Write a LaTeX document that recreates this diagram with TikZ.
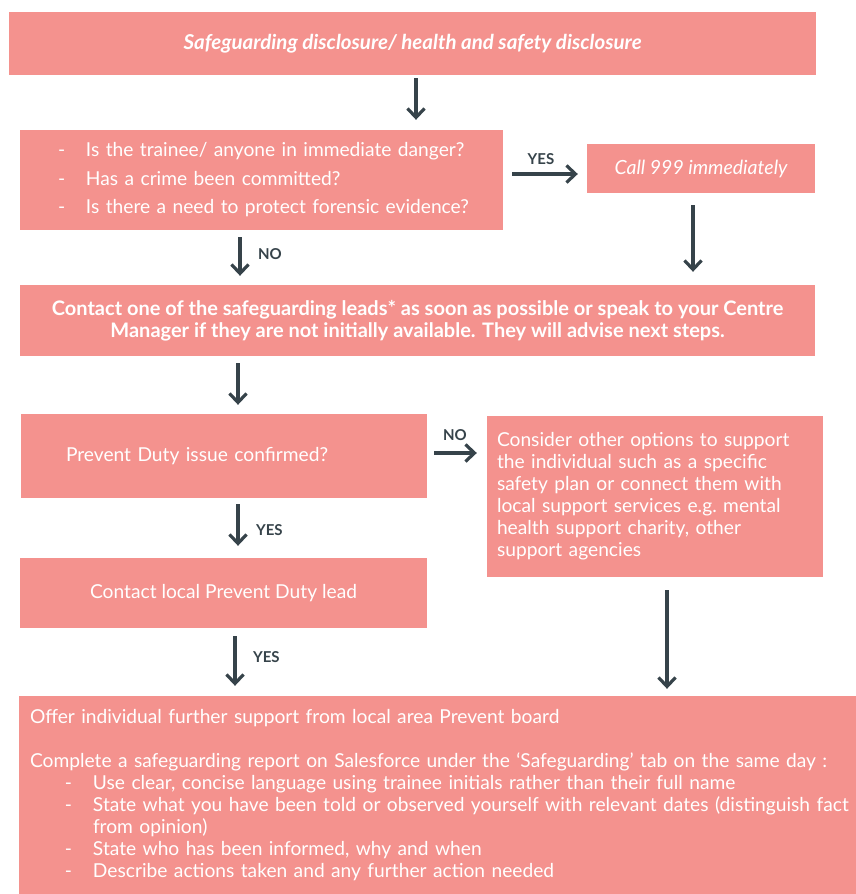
\documentclass[tikz,border=0pt]{standalone}
\usepackage{fontspec}
\setmainfont{Lato}
\usetikzlibrary{positioning, arrows.meta}

\definecolor{boxpink}{HTML}{F4928E}
\definecolor{arrowslate}{HTML}{36434A}

\newcommand{\dashitem}[2]{\hspace*{#1}\mbox{\makebox[28pt][l]{-}#2}}

\begin{document}
\begin{tikzpicture}[x=1pt, y=-1pt,
  every node/.style={font=\fontsize{19.2}{22}\selectfont},
  box/.style={fill=boxpink, text=white, inner sep=0pt},
  flow/.style={draw=arrowslate, line width=3.6pt, -{Straight Barb[length=9pt, width=17pt, line width=3.2pt]}},
  answer/.style={text=arrowslate, font=\fontsize{15}{16}\selectfont\bfseries},
  gap/.style 2 args={shorten <=#1, shorten >=#2}]
  \useasboundingbox (0,0) rectangle (856,894);

  % boxes
  \node[box, minimum width=807pt, minimum height=63pt, font=\fontsize{20.5}{22}\selectfont\bfseries\itshape] (disclosure) at (412.5,43.5) {Safeguarding disclosure/ health and safety disclosure};
  \node[box, minimum width=483pt, minimum height=100pt, text width=483pt, align=left, font=\fontsize{19.2}{28.5}\selectfont] (danger) at (261.5,180)
    {\dashitem{38pt}{Is the trainee/ anyone in immediate danger?}\\
     \dashitem{38pt}{Has a crime been committed?}\\
     \dashitem{38pt}{Is there a need to protect forensic evidence?}};
  \node[box, minimum width=228pt, minimum height=49pt, font=\fontsize{19.5}{22}\selectfont\itshape] (police) at (701,168.5) {Call 999 immediately};
  \node[box, minimum width=795pt, minimum height=71pt, align=center, font=\fontsize{20}{22}\selectfont\bfseries] (leads) at (417.5,320.5)
    {Contact one of the safeguarding leads* as soon as possible or speak to your Centre\\
     Manager if they are not initially available. They will advise next steps.};
  \node[box, minimum width=406pt, minimum height=84pt, text width=406pt, align=left] (prevent) at (224,456)
    {\hspace*{45pt}Prevent Duty issue confirmed?};
  \node[box, minimum width=336pt, minimum height=161pt, text width=316pt, inner xsep=10pt, align=left] (options) at (655,496.5)
    {Consider other options to support\\
     the individual such as a specific\\
     safety plan or connect them with\\
     local support services e.g.\ mental\\
     health support charity, other\\
     support agencies\\[28pt]};
  \node[box, minimum width=407pt, minimum height=70pt] (dutylead) at (223.5,593) {Contact local Prevent Duty lead};
  \node[box, minimum width=837pt, minimum height=198pt, text width=815pt, inner xsep=11pt, align=left] (report) at (437.5,795)
    {Offer individual further support from local area Prevent board\\[22pt]
     Complete a safeguarding report on Salesforce under the `Safeguarding' tab on the same day :\\
     \dashitem{35pt}{Use clear, concise language using trainee initials rather than their full name}\\
     \dashitem{35pt}{State what you have been told or observed yourself with relevant dates (distinguish fact}\\
     \hspace*{63pt}from opinion)\\
     \dashitem{35pt}{State who has been informed, why and when}\\
     \dashitem{35pt}{Describe actions taken and any further action needed}\\[22pt]};

  % connectors
  \draw[flow, gap={3pt}{10pt}] ([xshift=3.5pt]disclosure.south) -- ([xshift=3.5pt]disclosure.south |- danger.north);
  \draw[flow, gap={9pt}{9pt}] ([yshift=6pt]danger.east) -- ([yshift=6pt]danger.east -| police.west)
    node[answer, midway, above=4pt, xshift=-4pt] {YES};
  \draw[flow, gap={7pt}{9pt}] ([xshift=-21.5pt]danger.south) -- ([xshift=-21.5pt]danger.south |- leads.north)
    node[answer, midway, right=13pt, yshift=3pt] {NO};
  \draw[flow, gap={12pt}{13pt}] ([xshift=-8pt]police.south) -- ([xshift=-8pt]police.south |- leads.north);
  \draw[flow, gap={7pt}{9pt}] ([xshift=14pt]prevent.north |- leads.south) -- ([xshift=14pt]prevent.north);
  \draw[flow, gap={7pt}{10pt}] ([yshift=3pt]prevent.east) -- ([yshift=3pt]prevent.east -| options.west)
    node[answer, midway, above=7pt, xshift=-2pt] {NO};
  \draw[flow, gap={6pt}{12pt}] ([xshift=14pt]prevent.south) -- ([xshift=14pt]prevent.south |- dutylead.north)
    node[answer, midway, right=13pt, yshift=-2pt] {YES};
  \draw[flow, gap={8pt}{10pt}] ([xshift=11.5pt]dutylead.south) -- ([xshift=11.5pt]dutylead.south |- report.north)
    node[answer, midway, right=13pt, yshift=5pt] {YES};
  \draw[flow, gap={13pt}{7pt}] ([xshift=12pt]options.south) -- ([xshift=12pt]options.south |- report.north);
\end{tikzpicture}
\end{document}
